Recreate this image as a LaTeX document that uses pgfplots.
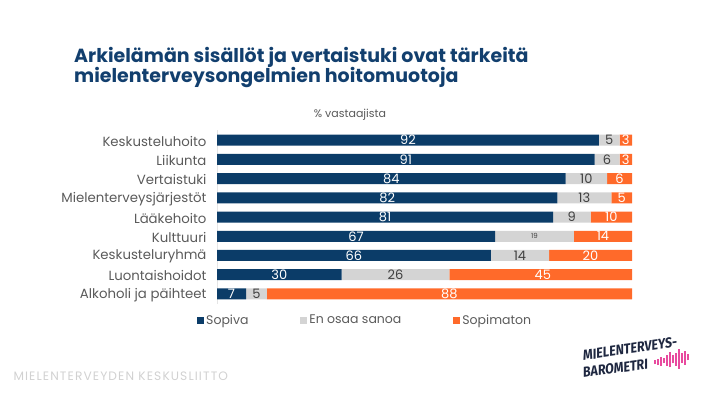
\documentclass[border=0pt]{standalone}
\usepackage{pgfplots}
\pgfplotsset{compat=1.18}
\usepackage{pgfplotstable}
\usepackage{fontspec}
\setmainfont{Poppins}
\newfontfamily\logofont{Fira Sans}
\newfontfamily\footfont[LetterSpace=9]{Poppins}
\definecolor{navy}{HTML}{0B3C68}
\definecolor{titleblue}{HTML}{123F6E}
\definecolor{lgray}{HTML}{D4D4D4}
\definecolor{orng}{HTML}{FF6A2A}
\definecolor{txtgray}{HTML}{5A5A5A}
\definecolor{pink}{HTML}{E84A9E}
\definecolor{logoblue}{HTML}{1E2740}
% values per category
\pgfplotstableread{
y a b c
0 92 5 3
1 91 6 3
2 84 10 6
3 82 13 5
4 81 9 10
5 67 19 14
6 66 14 20
7 30 26 45
8 7 5 88
}\data
% label positions (segment centres) and label texts
\pgfplotstableread{
y ca la cb lb cc lc
0 46 92 94.5 5 98.5 3
1 45.5 91 94 6 98.5 3
2 42 84 89 10 97 6
3 41 82 88.5 13 97.5 5
4 40.5 81 85.5 9 95 10
5 33.5 67 76.5 {\fontsize{7bp}{8bp}\selectfont 19} 93 14
6 33 66 73 14 90 20
7 15 30 43 26 78.5 45
8 3.5 7 9.5 5 56 88
}\labels
\begin{document}
\begin{tikzpicture}[x=1bp,y=1bp]
\path[use as bounding box] (0,0) rectangle (705,397);
\node[anchor=north west, align=left, font=\fontsize{19bp}{20.5bp}\selectfont\bfseries, text=titleblue, inner sep=0] at (74,350) {Arkielämän sisällöt ja vertaistuki ovat tärkeitä\\mielenterveysongelmien hoitomuotoja};
\node[font=\fontsize{11bp}{13bp}\selectfont, text=txtgray] at (350,282) {\% vastaajista};
\begin{axis}[
  at={(217bp,93.4bp)}, anchor=south west, scale only axis,
  width=415bp, height=173.2bp,
  xbar stacked, bar width=11bp,
  xmin=0, xmax=100, ymin=-0.5, ymax=8.5, y dir=reverse,
  axis x line=none, axis y line*=left,
  y axis line style={draw=lgray!60, line width=0.6pt},
  ytick={0,...,8}, major tick length=0pt,
  yticklabels={Keskusteluhoito,Liikunta,Vertaistuki,Mielenterveysjärjestöt,Lääkehoito,Kulttuuri,Keskusteluryhmä,Luontaishoidot,Alkoholi ja päihteet},
  yticklabel style={font=\fontsize{13.3bp}{14bp}\selectfont, text=txtgray, xshift=-7bp, yshift=-1bp},
  legend columns=3,
  legend style={at={(0.357,-0.095)}, anchor=center, draw=none, fill=none, font=\fontsize{12.5bp}{14bp}\selectfont, text=txtgray,
    /tikz/every even column/.append style={column sep=50bp}},
  legend image code/.code={\fill[#1] (0bp,-3.5bp) rectangle (7bp,3.5bp);},
]
\addplot[fill=navy, draw=none] table[x=a, y=y] \data;
\addplot[fill=lgray, draw=none] table[x=b, y=y] \data;
\addplot[fill=orng, draw=none] table[x=c, y=y] \data;
\legend{Sopiva,En osaa sanoa,Sopimaton}
\end{axis}
\begin{axis}[
  at={(217bp,93.4bp)}, anchor=south west, scale only axis,
  width=415bp, height=173.2bp,
  xmin=0, xmax=100, ymin=-0.5, ymax=8.5, y dir=reverse, hide axis, clip=false,
  nodes near coords, point meta=explicit symbolic,
  every node near coord/.append style={font=\fontsize{13bp}{14bp}\selectfont, anchor=center, inner sep=0},
]
\addplot[draw=none, mark=none, every node near coord/.append style={text=white}] table[x=ca, y=y, meta=la] \labels;
\addplot[draw=none, mark=none, every node near coord/.append style={text=black!75}] table[x=cb, y=y, meta=lb] \labels;
\addplot[draw=none, mark=none, every node near coord/.append style={text=white}] table[x=cc, y=y, meta=lc] \labels;
\end{axis}
\node[anchor=west, font=\footfont\fontsize{12.2bp}{13bp}\selectfont, text=black!18] at (10,21) {MIELENTERVEYDEN KESKUSLIITTO};
% logo
\node[anchor=base west, inner sep=0, cm={0.85,0.12,0,1,(0,0)}, font=\logofont\bfseries\fontsize{14.5bp}{14.5bp}\selectfont, text=logoblue] at (583,36.5) {MIELENTERVEYS-};
\node[anchor=base west, inner sep=0, cm={0.85,0.12,0,1,(0,0)}, font=\logofont\bfseries\fontsize{14.5bp}{14.5bp}\selectfont, text=logoblue] at (583,19) {BAROMETRI};
\foreach \xx/\hh in {655/4,658/6,661/9,664/5,667/11,670/15,673/8,676/13,679/20,682/10,685/14,688/6}
  \draw[pink, line width=1.4bp] (\xx,{35+0.14*(\xx-655)-\hh/2}) -- (\xx,{35+0.14*(\xx-655)+\hh/2});
\end{tikzpicture}
\end{document}
